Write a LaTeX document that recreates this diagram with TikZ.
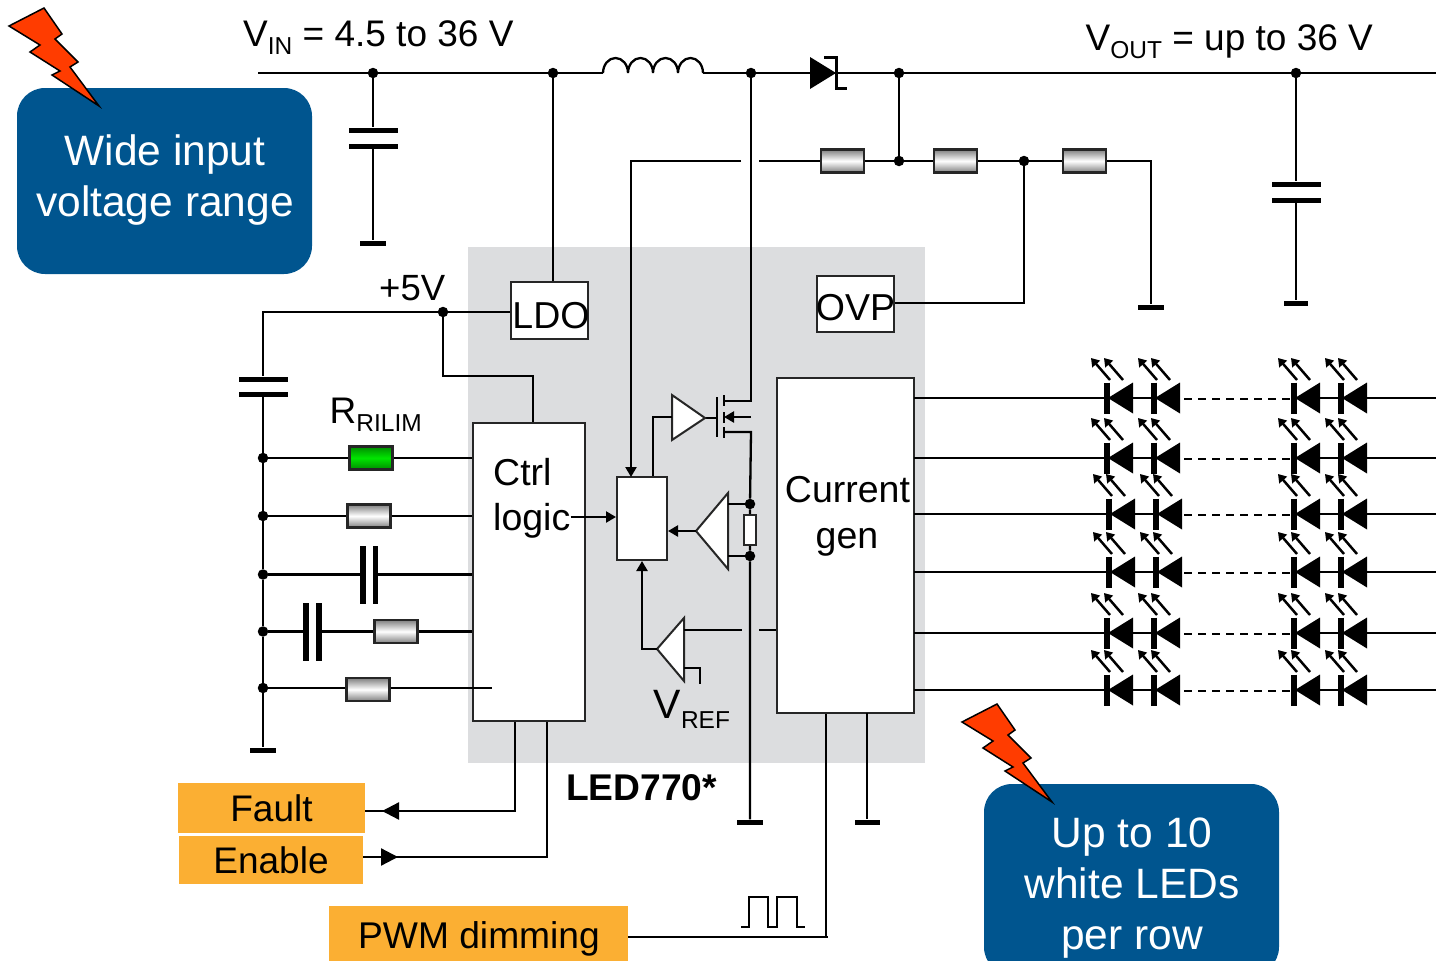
\documentclass[tikz,border=0pt]{standalone}
\usepackage{fontspec}
\setmainfont{Liberation Sans}
\usetikzlibrary{arrows.meta}

\definecolor{chipgray}{HTML}{DCDDDF}
\definecolor{calloutblue}{HTML}{00558F}
\definecolor{tagorange}{HTML}{FBAF33}
\definecolor{boltred}{HTML}{FF3C00}

\newcommand{\fsz}[1]{\fontsize{#1}{#1}\selectfont}
\newcommand{\subtxt}[2][8]{\raisebox{-#1pt}{\fsz{24.5}#2}}

\tikzset{
    wire/.style={line width=2.3pt},
    arrowwire/.style={line width=2.3pt, -{Triangle[length=10pt,width=11pt]}},
    lbl/.style={inner sep=0pt, anchor=base west, font=\fsz{37}},
    lblc/.style={inner sep=0pt, anchor=base, font=\fsz{37.5}},
    dot/.style={circle, fill=black, minimum size=10.5pt, inner sep=0pt},
    whitebox/.style={rectangle, draw=black!85, line width=2pt, fill=white, inner sep=0pt},
    resbox/.style={rectangle, draw=black!85, line width=2.3pt, inner sep=0pt, minimum width=43pt, minimum height=23pt,
        top color=black!50, bottom color=black!50, middle color=white},
    greenres/.style={resbox, top color=green!55!black, bottom color=green!55!black, middle color=green!90!black},
    hplate/.style={rectangle, fill=black, inner sep=0pt, minimum width=49pt, minimum height=5pt},
    vplate/.style={rectangle, fill=black, inner sep=0pt, minimum width=5.5pt, minimum height=58pt},
    gndbar/.style={rectangle, fill=black, inner sep=0pt, minimum width=26pt, minimum height=5pt},
    callout/.style={rectangle, rounded corners=28pt, fill=calloutblue, inner sep=0pt, minimum width=295pt},
    calltext/.style={inner sep=0pt, text=white, align=center, font=\fontsize{42.5}{51}\selectfont},
    tagbox/.style={rectangle, fill=tagorange, inner sep=0pt},
    bolt/.pic={
        \draw[fill=boltred, line width=1.5pt, line join=miter]
            (44,8) -- (62,34) -- (55,39) -- (78,62) -- (70,67) -- (99,106) -- (52,75)
            -- (60,71) -- (30,52) -- (40,45) -- (9,26) -- cycle;
    },
    ledcell/.pic={
        \fill (1,0) -- (26,-15.5) -- (26,15.5) -- cycle;
        \draw[line width=5.5pt] (0,-15.5) -- (0,15.5);
        \draw[line width=2.5pt, -{Triangle[length=8pt,width=10pt]}] (3,-18) -- (-16,-40);
        \draw[line width=2.5pt, -{Triangle[length=8pt,width=10pt]}] (16,-18) -- (-3,-40);
    }
}

\begin{document}
\begin{tikzpicture}[x=1pt, y=-1pt]
    \useasboundingbox (0,0) rectangle (1436,961);
    \clip (0,0) rectangle (1436,961);

    % chip area and blocks
    \fill[chipgray] (468,247) rectangle (925,763);
    \node[whitebox, minimum width=77pt, minimum height=57pt] (ldo) at (549.5,310.5) {};
    \node[whitebox, minimum width=77pt, minimum height=56pt] (ovp) at (855.5,304) {};
    \node[whitebox, minimum width=112pt, minimum height=298pt] (ctrl) at (529,572) {};
    \node[whitebox, minimum width=137pt, minimum height=335pt] (curr) at (845.5,545.5) {};
    \node[whitebox, minimum width=50pt, minimum height=83pt] (pwr) at (642,518.5) {};
    \node[lblc] (ldotxt) at (551,328) {LDO};
    \node[lblc] (ovptxt) at (855.5,320) {OVP};
    \node[lbl, font=\fsz{37.5}] (ctrltxt) at (493,485) {Ctrl};
    \node[lbl, font=\fsz{37.5}] (logictxt) at (493,530) {logic};
    \node[lblc] (currtxt) at (847.5,502) {Current};
    \node[lblc] (gentxt) at (847,548) {gen};

    % input rail
    \coordinate (vinl) at (258,73);
    \node[dot] (dcin) at (373,73) {};
    \node[dot] (dldo) at (553,73) {};
    \coordinate (lin) at (603,73);
    \coordinate (lout) at (703,73);
    \node[dot] (dsw) at (751,73) {};
    \coordinate (dan) at (810,73);
    \coordinate (dka) at (835,73);
    \node[dot] (dout) at (899,73) {};
    \node[dot] (dcout) at (1296,73) {};
    \coordinate (voutr) at (1436,73);
    \draw[wire] (vinl) -- (dcin) -- (dldo) -- (lin);
    \draw[wire] (lin) arc[start angle=180, end angle=360, x radius=12.5, y radius=15]
        arc[start angle=180, end angle=360, x radius=12.5, y radius=15]
        arc[start angle=180, end angle=360, x radius=12.5, y radius=15]
        arc[start angle=180, end angle=360, x radius=12.5, y radius=15];
    \draw[wire] (lout) -- (dsw) -- (dan);
    \draw[wire] (dka) -- (dout) -- (dcout) -- (voutr);
    \fill (810,57) -- (836,73) -- (810,89) -- cycle;
    \draw[line width=3pt] (824,57) -- (836,57) -- (836,88) -- (847,88);

    % input and output capacitors
    \node[hplate] (cina) at (373,130) {};
    \node[hplate] (cinb) at (373,146) {};
    \node[gndbar] (gndin) at (373,243) {};
    \draw[wire] (dcin) -- (cina) (cinb) -- (gndin);
    \node[hplate] (couta) at (1296,184) {};
    \node[hplate] (coutb) at (1296,200) {};
    \node[gndbar, minimum width=24pt] (gndout) at (1296,303) {};
    \draw[wire] (dcout) -- (couta) (coutb) -- (gndout);
    \draw[wire] (dldo) -- (ldo.north -| dldo);

    % feedback divider
    \coordinate (fbgapr) at (759,161);
    \coordinate (fbgapl) at (741,161);
    \coordinate (fbcorner) at (631,161);
    \coordinate (fbin) at (631,477);
    \node[resbox] (rsa) at (842.5,161) {};
    \node[dot] (dfb) at (899,161) {};
    \node[resbox] (rsb) at (955.5,161) {};
    \node[dot] (dovp) at (1024,161) {};
    \node[resbox] (rsc) at (1084.5,161) {};
    \coordinate (fbend) at (1151,161);
    \node[gndbar] (gndfb) at (1151,307) {};
    \draw[wire] (dout) -- (dfb);
    \draw[wire] (fbgapr) -- (rsa) (rsa) -- (dfb) -- (rsb) (rsb) -- (dovp) -- (rsc) (rsc) -- (fbend) -- (gndfb);
    \draw[arrowwire] (fbgapl) -- (fbcorner) -- (fbin);
    \coordinate (ovpturn) at (1024,303);
    \draw[wire] (dovp) -- (ovpturn) -- (ovp.east |- ovpturn);

    % power switch and sense
    \coordinate (drain) at (751,401);
    \coordinate (body) at (751,417);
    \coordinate (source) at (751,432);
    \node[dot] (dsa) at (750,504) {};
    \node[whitebox, minimum width=12pt, minimum height=30pt] (rsense) at (750,530) {};
    \node[dot] (dsb) at (750,556) {};
    \node[gndbar] (gndsw) at (750,822) {};
    \draw[wire] (dsw) -- (drain) -- (724,401);
    \draw[wire] (724,432) -- (source) -- (dsa) -- (rsense) -- (dsb) -- (gndsw);
    \draw[wire, -{Triangle[length=10pt,width=11pt]}] (body) -- (724,417);
    \draw[line width=2.8pt] (717,397) -- (717,437) (724,395) -- (724,406) (724,412) -- (724,423) (724,427) -- (724,438);
    \draw[wire] (705,418) -- (717,418);
    \draw[whitebox] (672,395) -- (705,418) -- (672,440) -- cycle;
    \coordinate (drvl) at (672,417);
    \coordinate (drvt) at (653,417);
    \draw[wire] (drvl) -- (drvt) -- (drvt |- pwr.north);

    % sense and error amplifiers
    \draw[whitebox] (728,493) -- (728,569) -- (696,531) -- cycle;
    \coordinate (ampa) at (728,504);
    \coordinate (ampb) at (728,556);
    \coordinate (ampo) at (696,531);
    \draw[wire] (ampa) -- (dsa) (ampb) -- (dsb);
    \draw[arrowwire] (ampo) -- (ampo -| pwr.east);
    \draw[whitebox] (684,618) -- (684,681) -- (657,649) -- cycle;
    \coordinate (erro) at (657,649);
    \coordinate (erra) at (684,630);
    \coordinate (errb) at (684,668);
    \coordinate (errgapl) at (742,630);
    \coordinate (errgapr) at (759,630);
    \coordinate (reft) at (700,668);
    \coordinate (refb) at (700,684);
    \coordinate (errturn) at (642,649);
    \draw[arrowwire] (erro) -- (errturn) -- (errturn |- pwr.south);
    \draw[wire] (erra) -- (errgapl) (errgapr) -- (errgapr -| curr.west);
    \draw[wire] (errb) -- (reft) -- (refb);
    \draw[arrowwire] (logictxt.base east |- 0,517) -- (pwr.west |- 0,517);
    \node[inner sep=0pt, anchor=base west, font=\fsz{41}] (vreftxt) at (653.5,718) {V\subtxt[10]{REF}};

    % +5V supply and left rail
    \node[dot] (dfive) at (443,312) {};
    \coordinate (railtop) at (263,312);
    \node[hplate] (cfa) at (263,379) {};
    \node[hplate] (cfb) at (263,394) {};
    \node[dot] (rla) at (263,458) {};
    \node[dot] (rlb) at (263,516) {};
    \node[dot] (rlc) at (263,574.5) {};
    \node[dot] (rld) at (263,631.5) {};
    \node[dot] (rle) at (263,688) {};
    \node[gndbar] (gndrail) at (263,750) {};
    \draw[wire] (ldo.west |- dfive) -- (dfive) -- (railtop) -- (cfa);
    \draw[wire] (cfb) -- (rla) -- (rlb) -- (rlc) -- (rld) -- (rle) -- (gndrail);
    \coordinate (ctrlturn) at (533,376);
    \draw[wire] (dfive) |- (ctrlturn) -- (ctrlturn |- ctrl.north);
    \node[lbl, font=\fsz{36.5}] (fivetxt) at (379,300) {+5V};

    % components on the left rail
    \node[greenres] (rilim) at (371,458) {};
    \node[resbox] (rsd) at (369,516) {};
    \node[vplate] (cca) at (363,574.5) {};
    \node[vplate] (ccb) at (375.5,574.5) {};
    \node[vplate] (cda) at (306,631.5) {};
    \node[vplate] (cdb) at (319,631.5) {};
    \node[resbox] (rse) at (396,631.5) {};
    \node[resbox] (rsf) at (368,689.5) {};
    \coordinate (rowfe) at (492,688);
    \draw[wire] (rla) -- (rilim) (rilim) -- (rilim -| ctrl.west);
    \draw[wire] (rlb) -- (rsd) (rsd) -- (rsd -| ctrl.west);
    \draw[wire] (rlc) -- (cca) (ccb) -- (ccb -| ctrl.west);
    \draw[wire] (rld) -- (cda) (cdb) -- (rse) (rse) -- (rse -| ctrl.west);
    \draw[wire] (rle) -- (rsf.west |- rle) (rsf.east |- rowfe) -- (rowfe);
    \node[lbl] (rilimtxt) at (329.5,423) {R\subtxt{RILIM}};

    % outside signals
    \node[tagbox, minimum width=187pt, minimum height=50pt, font=\fsz{37}] (fault) at (271.5,808) {Fault};
    \node[tagbox, minimum width=184pt, minimum height=48pt, font=\fsz{37}] (enable) at (271,860) {\raisebox{-1pt}{Enable}};
    \node[tagbox, minimum width=299pt, minimum height=70pt] (pwm) at (478.5,941) {};
    \node[lblc, font=\fsz{37.2}] (pwmtxt) at (479,948.5) {PWM dimming};
    \node[inner sep=0pt, anchor=base west, font=\bfseries\fsz{37.2}] (chiptxt) at (566,800) {LED770*};
    \coordinate (faultdn) at (515,811);
    \coordinate (enabledn) at (547,857);
    \coordinate (faultarr) at (415,811);
    \coordinate (faulttip) at (382,811);
    \coordinate (enablearr) at (381,857);
    \coordinate (enabletip) at (398,857);
    \draw[wire] (ctrl.south -| faultdn) -- (faultdn) -- (fault.east |- faultdn);
    \draw[wire] (ctrl.south -| enabledn) -- (enabledn) -- (enable.east |- enabledn);
    \draw[arrowwire, -{Triangle[length=17pt,width=17pt]}] (faultarr) -- (faulttip);
    \draw[arrowwire, -{Triangle[length=17pt,width=17pt]}] (enablearr) -- (enabletip);
    \coordinate (pwmcorner) at (828,937);
    \coordinate (pwmup) at (826,937);
    \draw[wire] (pwm.east |- pwmcorner) -- (pwmcorner);
    \draw[wire] (pwmup) -- (pwmup |- curr.south);
    \draw[line width=1.8pt] (741,927) -- (749,927) -- (749,897) -- (768,897) -- (768,927) -- (777,927)
        -- (777,897) -- (797,897) -- (797,927) -- (805,927);
    \coordinate (currgnd) at (867,713);
    \node[gndbar, minimum width=25pt] (gndcurr) at (867,822) {};
    \draw[wire] (currgnd) -- (gndcurr);

    % LED rows
    \foreach \y/\d [count=\n] in {398/0,458/0,514/2,572/2,633/0,690/0}{
        \coordinate (rowa\n) at (914,\y);
        \coordinate (rowb\n) at (1160+\d,\y);
        \coordinate (rowc\n) at (1184,\y+1);
        \coordinate (rowd\n) at (1292,\y+1);
        \coordinate (rowe\n) at (1300,\y);
        \coordinate (rowf\n) at (1436,\y);
        \draw[wire] (rowa\n) -- (rowb\n);
        \draw[wire, dash pattern=on 8pt off 6pt] (rowc\n) -- (rowd\n);
        \draw[line width=2.6pt] (rowe\n) -- (rowf\n);
        \foreach \x in {1107,1154}{
            \pic at (\x+\d,\y) {ledcell};
        }
        \foreach \x in {1294,1341}{
            \pic at (\x,\y) {ledcell};
        }
    }

    % callouts
    \node[callout, minimum height=186pt] (widebox) at (164.5,181) {};
    \node[calltext] (widetxt) at (165,180) {Wide input\\voltage range};
    \pic at (0,0) {bolt};
    \node[callout, minimum height=191pt] (rowbox) at (1131.5,879.5) {};
    \node[calltext] (rowtxt) at (1132,888) {Up to 10\\white LEDs\\per row};
    \pic at (953,696) {bolt};

    % supply labels
    \node[lbl] (vintxt) at (243,46) {V\subtxt{IN} = 4.5 to 36 V};
    \node[lbl] (vouttxt) at (1085.5,50) {V\subtxt{OUT} = up to 36 V};
\end{tikzpicture}
\end{document}
